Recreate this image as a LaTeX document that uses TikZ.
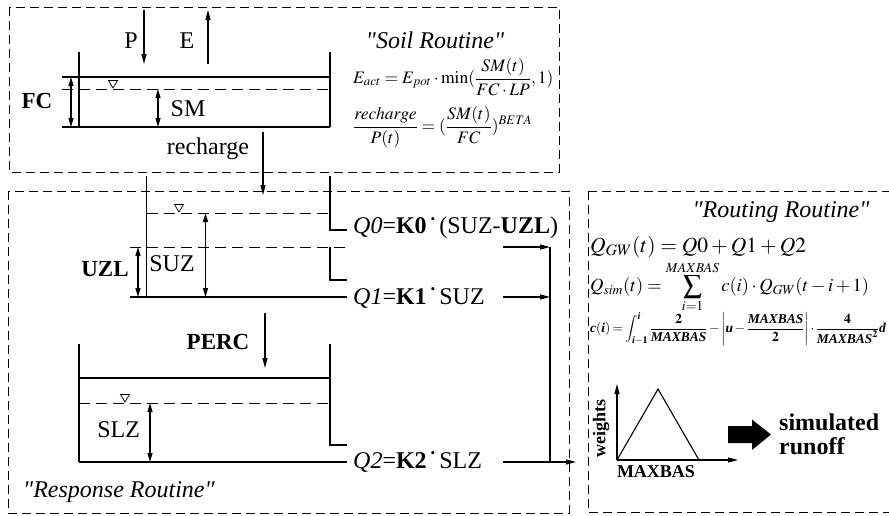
\documentclass[tikz,border=0pt]{standalone}
\usepackage{amsmath}
\usepackage{mathptmx}
\usepackage[no-math]{fontspec}
\setmainfont{Liberation Serif}[Ligatures=TeXOff]
\usepackage{graphicx}
\usetikzlibrary{arrows.meta}
\newcommand{\qdot}{\,\raisebox{.42em}{\scalebox{.55}{\textbullet}}\,}
\newcommand{\bi}[1]{\text{\bfseries\itshape #1}}
\newcommand{\fs}[1]{\fontsize{#1}{#1}\selectfont}
\tikzset{
  box/.style={draw, line width=0.9pt, dash pattern=on 9pt off 5pt},
  wall/.style={line width=1.1pt},
  water/.style={line width=1pt, dash pattern=on 11pt off 6pt},
  arr/.style={line width=1.1pt, -{Triangle[length=10pt,width=5pt]}},
  darr/.style={line width=1.1pt, {Triangle[length=9pt,width=5pt]}-{Triangle[length=9pt,width=5pt]}},
  lbl/.style={inner sep=0pt, font=\fs{24}},
  blbl/.style={inner sep=0pt, font=\fs{23}\bfseries},
  ttl/.style={inner sep=0pt, font=\fs{24}\itshape},
  frm/.style={inner sep=0pt, anchor=west},
  level/.style={line width=0.7pt}
}
\begin{document}
\begin{tikzpicture}[x=1pt,y=-1pt]
\useasboundingbox (0,0) rectangle (889,515);
% boxes
\draw[box] (9,7) rectangle (559,172);
\draw[box] (8,191) rectangle (569,513);
\draw[box] (588,191) -- (900,191) (588,191) -- (588,512) -- (900,512);

% ---------- soil tank ----------
\draw[wall] (79,52) -- (79,127);
\draw[wall] (330,52) -- (330,127);
\draw[wall] (62,77) -- (330,77);
\draw[water] (62,89) -- (330,89);
\draw[wall] (62,127) -- (330,127);
\draw[level] (108.5,80.5) -- (117.5,80.5) -- (113,88) -- cycle;
\coordinate (fct) at (71,77); \coordinate (fcb) at (71,127);
\draw[darr] (fct) -- (fcb);
\coordinate (smt) at (158,89); \coordinate (smb) at (158,127);
\draw[darr] (smt) -- (smb);
\node[blbl] (FC) at (37,101) {FC};
\node[lbl] (SM) at (188,109) {SM};
\node[lbl] (P) at (131,41) {P};
\node[lbl] (E) at (187,41) {E};
\coordinate (pt) at (144,10); \coordinate (pb) at (144,64);
\draw[arr] (pt) -- (pb);
\coordinate (et) at (208,10); \coordinate (eb) at (208,64);
\draw[arr] (eb) -- (et);
\node[lbl] (rech) at (208,149) {recharge};
\coordinate (rt) at (263,132); \coordinate (rb) at (263,195);
\draw[arr] (rt) -- (rb);

% soil formulas
\node[ttl] (soilt) at (435,40) {"Soil Routine"};
\node[frm] (eact) at (353,77) {\fs{17.5}$\displaystyle E_{act}=E_{pot}\cdot\min(\frac{SM(t)}{FC\cdot LP},1)$};
\node[frm] (rf) at (353,127) {\fs{17.5}$\displaystyle \frac{recharge}{P(t)}=(\frac{SM(t)}{FC})^{BETA}$};

% ---------- upper response tank ----------
\draw[wall] (146.5,176) -- (146.5,297);
\draw[wall] (330,176) -- (330,230) -- (347,230);
\draw[water] (146.5,213) -- (330,213);
\draw[level] (174.5,204.5) -- (183.5,204.5) -- (179,212) -- cycle;
\draw[water] (130,247) -- (347,247);
\draw[wall] (330,247) -- (330,280) -- (347,280);
\draw[wall] (130,297) -- (347,297);
\coordinate (uzt) at (138,247); \coordinate (uzb) at (138,297);
\draw[darr] (uzt) -- (uzb);
\coordinate (sut) at (205.5,213); \coordinate (sub) at (205.5,297);
\draw[darr] (sut) -- (sub);
\node[blbl] (UZL) at (105,269) {UZL};
\node[lbl] (SUZ) at (172,264) {SUZ};

\node[lbl,anchor=west] (Q0) at (353,228) {\textit{Q0}=\textbf{K0}\qdot(SUZ-\textbf{UZL})};
\node[lbl,anchor=west] (Q1) at (353,298) {\textit{Q1}=\textbf{K1}\qdot SUZ};
\node[lbl,anchor=west] (Q2) at (353,462) {\textit{Q2}=\textbf{K2}\qdot SLZ};

% percolation
\node[blbl] (PERC) at (218,342) {PERC};
\coordinate (pct) at (265,313); \coordinate (pcb) at (265,368);
\draw[arr] (pct) -- (pcb);

% ---------- lower tank ----------
\draw[wall] (79,344) -- (79,462);
\draw[wall] (330,344) -- (330,445) -- (347,445);
\draw[wall] (79,378) -- (330,378);
\draw[water] (79,403) -- (330,403);
\draw[level] (120.5,394.5) -- (129.5,394.5) -- (125,402) -- cycle;
\draw[wall] (79,462) -- (347,462);
\coordinate (slt) at (150,403); \coordinate (slb) at (150,462);
\draw[darr] (slt) -- (slb);
\node[lbl] (SLZ) at (118.6,430) {SLZ};

% outflow arrows
\coordinate (a0) at (503,247); \coordinate (b0) at (550,247);
\coordinate (a1) at (503,297); \coordinate (b1) at (550,297);
\coordinate (a2) at (503,462); \coordinate (b2) at (576,462);
\draw[arr] (a0) -- (b0);
\draw[arr] (a1) -- (b1);
\draw[arr] (a2) -- (b2);
\draw[wall] (b0) -- (550,462);

\node[ttl,anchor=west] (resp) at (23,492) {"Response Routine"};

% ---------- routing ----------
\node[ttl] (routt) at (781,212) {"Routing Routine"};
\node[frm] (qgw) at (590,247) {\fs{21.5}$Q_{GW}(t)=Q0+Q1+Q2$};
\node[frm] (qsim) at (590,287) {\fs{18.5}$\displaystyle Q_{sim}(t)=\sum_{i=1}^{MAXBAS}c(i)\cdot Q_{GW}(t-i+1)$};
\node[frm] (ci) at (590,329) {\fs{13.5}\medmuskip=2mu\thickmuskip=3mu$\displaystyle \bi{c}\mathbf{(}\bi{i}\mathbf{)}=\int_{\bi{i}-\mathbf{1}}^{\bi{i}}\frac{\mathbf{2}}{\bi{MAXBAS}}-\left|\bi{u}-\frac{\bi{MAXBAS}}{\mathbf{2}}\right|\cdot\frac{\mathbf{4}}{\bi{MAXBAS}^{\mathbf{2}}}\bi{d}$};

% triangle plot
\coordinate (o) at (617,460);
\coordinate (ya) at (617,384);
\coordinate (xa) at (738,460);
\draw[arr] (o) -- (ya);
\draw[arr] (o) -- (xa);
\coordinate (apex) at (658,389);
\coordinate (tr) at (699,460);
\draw[wall] (o) -- (apex) -- (tr);
\node[inner sep=0pt, font=\fs{18}\bfseries, rotate=90] (wts) at (601,428) {weights};
\node[inner sep=0pt, font=\fs{18}\bfseries] (mxb) at (656,472) {MAXBAS};

\fill (728,426) -- (752,426) -- (752,419.5) -- (771,434.5) -- (752,450) -- (752,443) -- (728,443) -- cycle;
\node[inner sep=0pt, font=\fs{24}\bfseries, anchor=west] (sim) at (779,422) {simulated};
\node[inner sep=0pt, font=\fs{24}\bfseries, anchor=west] (run) at (779,446) {runoff};
\end{tikzpicture}
\end{document}
